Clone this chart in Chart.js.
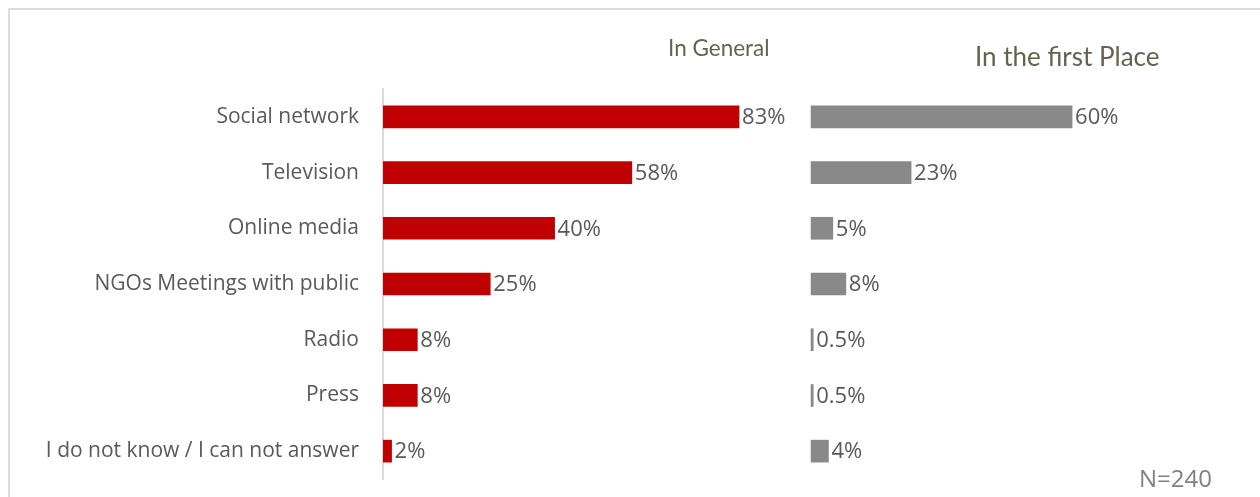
<!DOCTYPE html>
<html>
<head>
<meta charset="utf-8">
<script src="https://cdn.jsdelivr.net/npm/chart.js@4.4.1/dist/chart.umd.min.js"></script>
<style>
    html, body { margin: 0; padding: 0; background: #fff; }
    #wrap { position: relative; width: 1260px; height: 497px; overflow: hidden; }
    #frame {
        position: absolute; left: 8px; top: 8px; right: -10px; bottom: -10px;
        border-top: 2px solid #dcdcdc; border-left: 2px solid #dcdcdc;
    }
    canvas { position: absolute; left: 0; top: 0; }
    .title { position: absolute; font-family: Lato, "Open Sans", sans-serif; color: #67624f; white-space: nowrap; }
    #t-general { left: 668px; top: 34px; font-size: 22.5px; }
    #t-first { left: 975px; top: 40px; font-size: 26px; }
    #note { position: absolute; left: 1139px; top: 461px; font-family: "Open Sans", sans-serif; font-size: 24px; color: #808080; }
</style>
</head>
<body>
<div id="wrap">
    <div id="frame"></div>
    <canvas id="chart" width="1260" height="497"></canvas>
    <div class="title" id="t-general">In General</div>
    <div class="title" id="t-first">In the first Place</div>
    <div id="note">N=240</div>
</div>
<script>
const categories = [
    'Social network',
    'Television',
    'Online media',
    'NGOs Meetings with public',
    'Radio',
    'Press',
    'I do not know / I can not answer'
];
const inGeneral = [83, 58, 40, 25, 8, 8, 2];
const firstPlace = [60, 23, 5, 8, 0.5, 0.5, 4];
const valueLabels = ['83%', '58%', '40%', '25%', '8%', '8%', '2%'];
const firstLabels = ['60%', '23%', '5%', '8%', '0.5%', '0.5%', '4%'];

const textGrey = '#595959';

// draws the percentage next to the end of every bar
const barLabels = {
    id: 'barLabels',
    afterDatasetsDraw(chart) {
        const ctx = chart.ctx;
        ctx.save();
        ctx.font = '22px "Open Sans", sans-serif';
        ctx.fillStyle = textGrey;
        ctx.textBaseline = 'middle';
        ctx.textAlign = 'left';
        chart.data.datasets.forEach((ds, i) => {
            const meta = chart.getDatasetMeta(i);
            meta.data.forEach((bar, j) => {
                ctx.fillText(ds.valueText[j], bar.x + 3, bar.y + 1);
            });
        });
        ctx.restore();
    }
};

const ctx = document.getElementById('chart').getContext('2d');
new Chart(ctx, {
    type: 'bar',
    data: {
        labels: categories,
        datasets: [
            {
                label: 'In General',
                data: inGeneral,
                valueText: valueLabels,
                xAxisID: 'x',
                backgroundColor: '#c00000',
                barThickness: 22,
            },
            {
                label: 'In the first Place',
                data: firstPlace,
                valueText: firstLabels,
                xAxisID: 'x2',
                backgroundColor: '#898989',
                barThickness: 22,
            }
        ]
    },
    options: {
        indexAxis: 'y',
        responsive: false,
        animation: false,
        grouped: false,
        layout: { autoPadding: false, padding: { left: 10, right: 10, top: 89, bottom: 18 } },
        plugins: {
            legend: { display: false },
            tooltip: { enabled: false }
        },
        scales: {
            // left panel
            x: { display: false, min: 0, max: 202.1 },
            // right panel: its zero sits at the middle of the plot
            x2: { display: false, min: -98.4, max: 100.9 },
            y: {
                afterFit: (scale) => {
                    // fixed label column; the tick padding should not eat into the plot height
                    scale.width = 373;
                    scale.paddingTop = 0;
                    scale.paddingBottom = 0;
                },
                grid: { display: false, drawTicks: false },
                border: { display: true, color: '#d9d9d9', width: 2 },
                ticks: {
                    color: textGrey,
                    padding: 24,
                    font: { family: '"Open Sans", sans-serif', size: 21 }
                }
            }
        }
    },
    plugins: [barLabels]
});
</script>
</body>
</html>
